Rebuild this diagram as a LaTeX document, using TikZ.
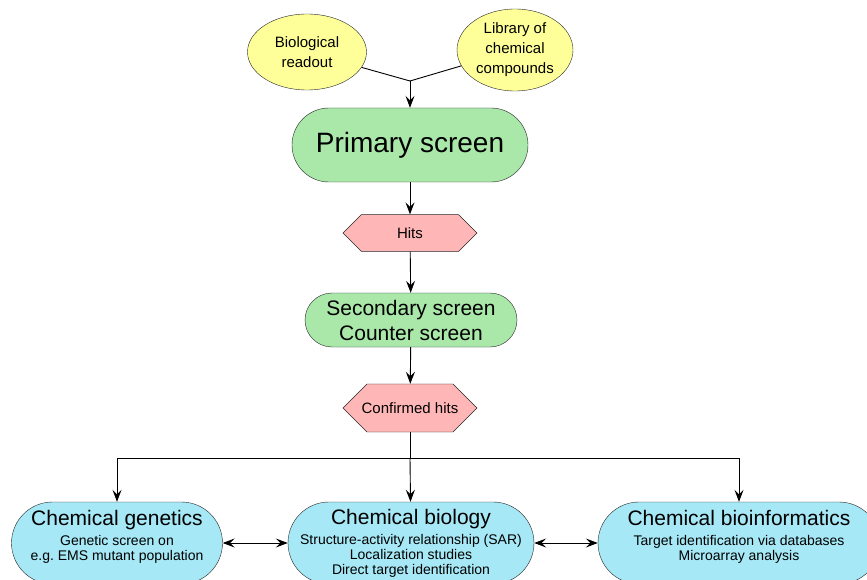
\documentclass[tikz,border=0pt]{standalone}
\usepackage{fontspec}
\setmainfont{Liberation Sans}
\usepackage{tikz}
\usetikzlibrary{arrows.meta,shapes.geometric,shapes.misc}

\definecolor{readoutyellow}{RGB}{255,255,153}
\definecolor{screengreen}{RGB}{170,232,170}
\definecolor{hitpink}{RGB}{255,182,182}
\definecolor{fieldcyan}{RGB}{166,232,246}

\begin{document}
\begin{tikzpicture}[x=1pt,y=-1pt]
    \tikzset { input/.style = { shape=ellipse,draw=black!85,fill=readoutyellow,align=center,
                                inner sep=0pt,font=\fontsize{15}{20}\selectfont } }
    \tikzset { screen/.style = { shape=rectangle,draw=black!85,fill=screengreen,align=center,inner sep=0pt } }
    \tikzset { hitbox/.style = { shape=chamfered rectangle,draw=black!85,fill=hitpink,inner sep=0pt,
                                 font=\fontsize{15}{18}\selectfont } }
    \tikzset { field/.style = { shape=rectangle,draw=black!85,fill=fieldcyan,align=center,inner sep=0pt,
                                minimum height=82pt,rounded corners=41pt,font=\fontsize{14}{15}\selectfont } }
    \tikzset { edge/.style = { ->,> = {Stealth[length=12pt,width=9pt,inset=4.5pt]},line width=0.9pt } }

    \useasboundingbox (0,0) rectangle (867,580);
    \clip (0,0) rectangle (867,580);

    % inputs
    \node[input,minimum width=119pt,minimum height=76pt] (readout) at (307,52) {Biological\\readout};
    \node[input,minimum width=116pt,minimum height=82pt] (library) at (515,50) {Library of\\chemical\\compounds};
    \coordinate (join) at (410,81);

    % screening steps
    \node[screen,minimum width=236pt,minimum height=74pt,rounded corners=37pt,
          font=\fontsize{28}{30}\selectfont] (primary) at (410,145) {Primary screen};
    \node[hitbox,minimum width=134pt,minimum height=34pt,
          chamfered rectangle xsep=21pt,chamfered rectangle ysep=17pt] (hits) at (410,233) {Hits};
    \node[screen,minimum width=212pt,minimum height=54pt,rounded corners=27pt,
          font=\fontsize{21}{25}\selectfont] (secondary) at (411,320) {Secondary screen\\Counter screen};
    \node[hitbox,minimum width=134pt,minimum height=37pt,
          chamfered rectangle xsep=19pt,chamfered rectangle ysep=18.5pt] (confirmed) at (410,408) {Confirmed hits};
    \coordinate (split) at (410,458);

    % fields
    \node[field,minimum width=211pt] (genetics) at (117,543) {%
      {\fontsize{21}{15}\selectfont Chemical genetics}\\[5pt]
      Genetic screen on\\e.g.\ EMS mutant population\\ \mbox{}};
    \node[field,minimum width=246pt] (biology) at (411,543) {%
      {\fontsize{21}{15}\selectfont Chemical biology}\\[5pt]
      Structure-activity relationship (SAR)\\Localization studies\\Direct target identification};
    \node[field,minimum width=282pt] (bioinf) at (739,543) {%
      {\fontsize{21}{15}\selectfont Chemical bioinformatics}\\[5pt]
      Target identification via databases\\Microarray analysis\\ \mbox{}};

    \draw[line width=0.9pt] (readout) -- (join);
    \draw[line width=0.9pt] (library) -- (join);
    \draw[edge] (join) -- (primary);
    \draw[edge] (primary) -- (hits);
    \draw[edge] (hits) -- (secondary);
    \draw[edge] (secondary) -- (confirmed);
    \draw[line width=0.9pt] (confirmed) -- (split);
    \draw[edge] (split) -| (genetics);
    \draw[edge] (split) -- (biology);
    \draw[edge] (split) -| (bioinf);
    \draw[edge,<->] (genetics) -- (biology);
    \draw[edge,<->] (biology) -- (bioinf);

  \end{tikzpicture}
\end{document}
